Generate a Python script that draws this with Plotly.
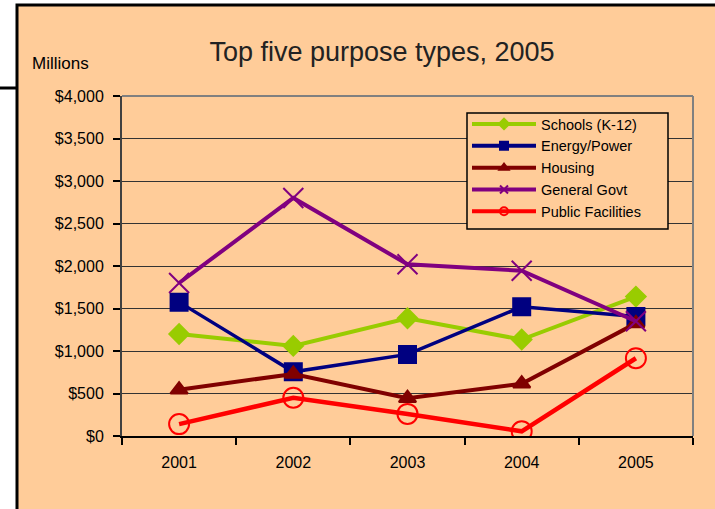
import plotly.graph_objects as go

years = ["2001", "2002", "2003", "2004", "2005"]
schools = [1200, 1060, 1385, 1135, 1640]
energy = [1575, 755, 960, 1520, 1405]
housing = [545, 730, 445, 615, 1325]
general_govt = [1800, 2800, 2020, 1945, 1350]
public_fac = [140, 450, 260, 55, 915]

series_names = ["Schools (K-12)", "Energy/Power", "Housing", "General Govt", "Public Facilities"]
series_values = [schools, energy, housing, general_govt, public_fac]

tick_vals = [0, 500, 1000, 1500, 2000, 2500, 3000, 3500, 4000]
tick_text = ["$0", "$500", "$1,000", "$1,500", "$2,000", "$2,500", "$3,000", "$3,500", "$4,000"]

colors = ["#99CC00", "#000080", "#800000", "#800080", "#FF0000"]
symbols = ["diamond", "square", "triangle-up", "x-thin", "circle-open"]
sizes = [15, 17, 15, 20, 20]
line_w = [4, 3.5, 4, 4, 4.5]

FONT = "Liberation Sans, Arial, sans-serif"

fig = go.Figure()
for name, vals, c, s, sz, lw in zip(series_names, series_values, colors, symbols, sizes, line_w):
    mk = dict(symbol=s, size=sz, color=c, line=dict(color=c, width=2))
    fig.add_trace(go.Scatter(x=years, y=vals, mode="lines+markers", name=name,
                             line=dict(color=c, width=lw), marker=mk,
                             showlegend=False, legendgroup=name))
for name, c, s in zip(series_names, colors, symbols):
    fig.add_trace(go.Scatter(x=[None], y=[None], mode="lines+markers", name=name,
                             line=dict(color=c, width=4),
                             marker=dict(symbol=s, size=8, color=c, line=dict(color=c, width=2)),
                             showlegend=True, legendgroup=name))

W, H = 715, 509
L, R, T, B = 122, 22, 96, 73
pw, ph = W - L - R, H - T - B

def px(xp):
    return (xp - L) / pw

def py(yp):
    return (H - B - yp) / ph

fig.update_layout(
    width=W, height=H,
    margin=dict(l=L, r=R, t=T, b=B, pad=0),
    paper_bgcolor="white",
    plot_bgcolor="#FFFFCC",
    font=dict(family=FONT, size=16, color="black"),
    title=dict(text="Top five purpose types, 2005", xref="container", x=382 / W, xanchor="center",
               yref="container", y=1 - 52 / H, yanchor="middle",
               font=dict(family=FONT, size=27, color="#222222")),
    xaxis=dict(type="category", categoryorder="array", categoryarray=years,
               tickson="boundaries", ticks="outside", ticklen=7, tickcolor="black", tickwidth=1.5,
               showline=True, linecolor="black", linewidth=1.5, showgrid=False,
               tickfont=dict(family=FONT, size=16, color="black"), ticklabelstandoff=11,
               range=[-0.5, 4.5]),
    yaxis=dict(range=[0, 4000], tickvals=tick_vals, ticktext=tick_text,
               ticks="outside", ticklen=7, tickcolor="black", tickwidth=1.5,
               showline=True, linecolor="#404040", linewidth=2,
               showgrid=True, gridcolor="#333333", gridwidth=1, zeroline=False,
               tickfont=dict(family=FONT, size=16, color="black"), ticklabelstandoff=6),
    legend=dict(x=px(467), y=py(108), xanchor="left", yanchor="top",
                bgcolor="rgba(0,0,0,0)", borderwidth=0,
                font=dict(family=FONT, size=14.5, color="black"),
                tracegroupgap=0, itemwidth=64),
    shapes=[
        dict(type="rect", xref="paper", yref="paper", x0=px(17), x1=px(730), y0=py(5), y1=py(530),
             fillcolor="#FFCC99", line=dict(color="black", width=3), layer="below"),
        dict(type="line", xref="paper", yref="paper", x0=px(-5), x1=px(17), y0=py(88), y1=py(88),
             line=dict(color="black", width=3), layer="below"),
        dict(type="line", xref="paper", yref="paper", x0=0, x1=1, y0=1, y1=1,
             line=dict(color="#808080", width=2)),
        dict(type="line", xref="paper", yref="paper", x0=1, x1=1, y0=0, y1=1,
             line=dict(color="#808080", width=2)),
        dict(type="rect", xref="paper", yref="paper", x0=px(467), x1=px(668), y0=py(229), y1=py(113),
             fillcolor="#FFCC99", line=dict(color="black", width=1.5), layer="above"),
    ],
    annotations=[
        dict(text="Millions", xref="paper", yref="paper", x=px(30), y=py(64),
             xanchor="left", yanchor="middle", showarrow=False,
             font=dict(family=FONT, size=17, color="black")),
    ],
)

fig.write_html("out.html", config={"displayModeBar": False},
               post_script="document.body.style.margin='0px';")
